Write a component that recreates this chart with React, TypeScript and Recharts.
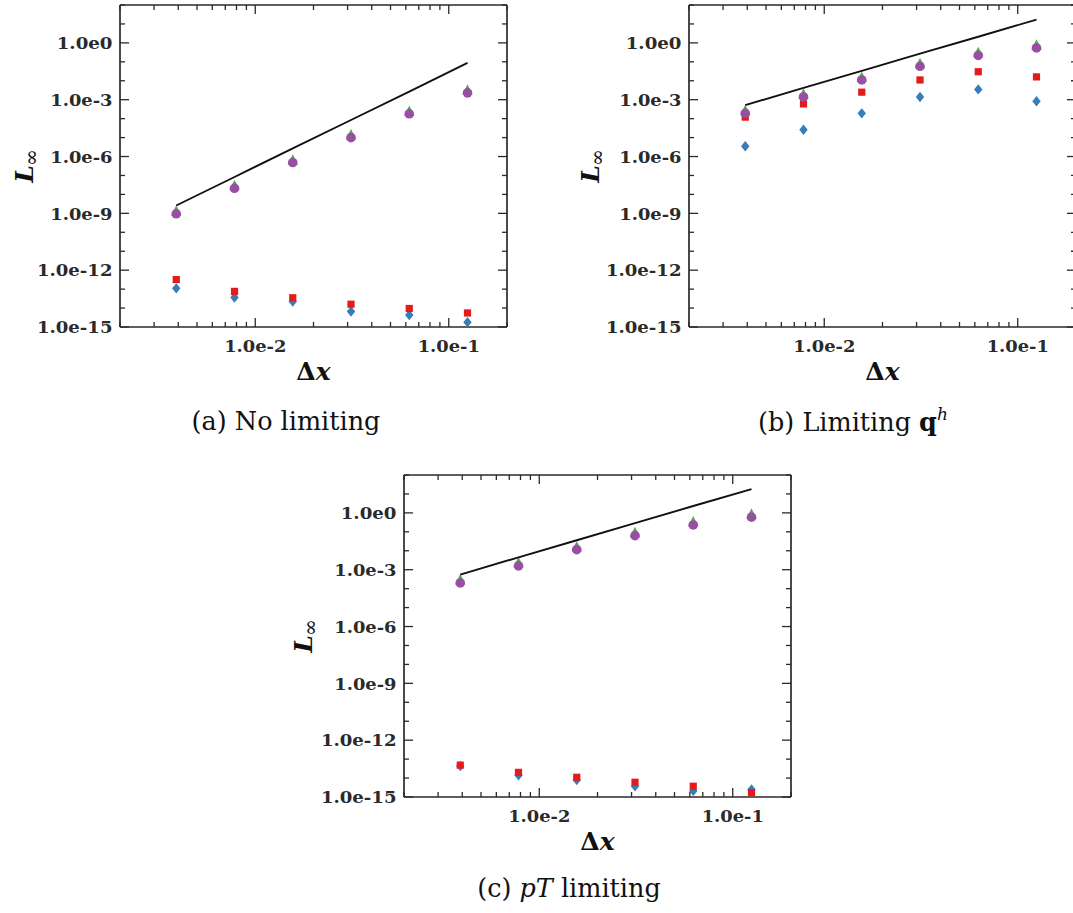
import { Scatter, ScatterChart, XAxis, YAxis } from "recharts";

// mesh sizes, shared by all three panels
const DX = [0.00390625, 0.0078125, 0.015625, 0.03125, 0.0625, 0.125];

// (a) no limiting
const A_DIAMOND = [1.1e-13, 3.6e-14, 2.2e-14, 6.6e-15, 4.3e-15, 1.8e-15];
const A_SQUARE = [3.2e-13, 7.6e-14, 3.5e-14, 1.6e-14, 9.5e-15, 5.5e-15];
const A_TRIANGLE = [1.15e-9, 2.5e-8, 5.7e-7, 1.2e-5, 2.1e-4, 2.8e-3];
const A_CIRCLE = [9.5e-10, 2.1e-8, 4.8e-7, 1.0e-5, 1.8e-4, 2.3e-3];
const A_REF = [2.6e-9, 8.3e-8, 2.7e-6, 8.5e-5, 2.7e-3, 8.7e-2];

// (b) limiting q^h
const B_DIAMOND = [3.5e-6, 2.6e-5, 1.9e-4, 1.4e-3, 3.5e-3, 8.3e-4];
const B_SQUARE = [1.2e-4, 6.0e-4, 2.5e-3, 1.1e-2, 3.0e-2, 1.6e-2];
const B_TRIANGLE = [2.3e-4, 1.7e-3, 1.3e-2, 7.0e-2, 0.27, 0.66];
const B_CIRCLE = [1.9e-4, 1.4e-3, 1.1e-2, 5.8e-2, 0.22, 0.54];
const B_REF = [5.2e-4, 4.2e-3, 3.3e-2, 0.27, 2.1, 17];

// (c) pT limiting
const C_DIAMOND = [4.3e-14, 1.4e-14, 7.8e-15, 3.7e-15, 2.1e-15, 2.5e-15];
const C_SQUARE = [4.8e-14, 2.0e-14, 1.1e-14, 6.0e-15, 3.7e-15, 1.7e-15];
const C_TRIANGLE = [2.5e-4, 2.0e-3, 1.4e-2, 7.8e-2, 0.29, 0.74];
const C_CIRCLE = [2.0e-4, 1.6e-3, 1.15e-2, 6.3e-2, 0.23, 0.59];
const C_REF = [5.5e-4, 4.5e-3, 3.6e-2, 0.29, 2.3, 18];

const X_TICKS = [
  0.002, 0.003, 0.004, 0.005, 0.006, 0.007, 0.008, 0.009, 0.01, 0.02, 0.03, 0.04, 0.05, 0.06, 0.07, 0.08, 0.09,
  0.1, 0.2,
];
const X_MAJOR = [0.01, 0.1];
const X_LABELS = ["1.0e-2", "1.0e-1"];
const Y_TICKS = [
  1e2, 1e1, 1, 1e-1, 1e-2, 1e-3, 1e-4, 1e-5, 1e-6, 1e-7, 1e-8, 1e-9, 1e-10, 1e-11, 1e-12, 1e-13, 1e-14, 1e-15,
];
const Y_MAJOR = [1, 1e-3, 1e-6, 1e-9, 1e-12, 1e-15];
const Y_LABELS = ["1.0e0", "1.0e-3", "1.0e-6", "1.0e-9", "1.0e-12", "1.0e-15"];

const BLUE = "#377eb8";
const RED = "#e41a1c";
const GREEN = "#4daf4a";
const PURPLE = "#984ea3";
const INK = "#2a2a2a";

const PLOT_W = 387;
const PLOT_H = 322;
const TICK_FONT = { fontFamily: "'DejaVu Serif', serif", fontWeight: 700, fontSize: 17.5, fill: INK };

// the original labels are set in a wide bold face; stretch ours to the same width
function labelWidth(s: string) {
  let w = 0;
  for (const ch of s) w += ch === "." ? 5 : ch === "e" ? 10.6 : ch === "-" ? 6.4 : 13.4;
  return w;
}

function majorIndex(v: number, majors: number[]) {
  return majors.findIndex((m) => Math.abs(Math.log10(v) - Math.log10(m)) < 1e-6);
}

function XTick(props: any) {
  const { x, y, payload, side } = props;
  const i = majorIndex(payload.value, X_MAJOR);
  const len = i >= 0 ? 9 : 5;
  const dir = side === "bottom" ? -1 : 1;
  return (
    <g>
      <line x1={x} x2={x} y1={y} y2={y + dir * len} stroke={INK} strokeWidth={1.3} />
      {side === "bottom" && i >= 0 && (
        <text
          x={x}
          y={y + 25}
          textAnchor="middle"
          textLength={labelWidth(X_LABELS[i])}
          lengthAdjust="spacingAndGlyphs"
          {...TICK_FONT}
        >
          {X_LABELS[i]}
        </text>
      )}
    </g>
  );
}

function YTick(props: any) {
  const { x, y, payload, side } = props;
  const i = majorIndex(payload.value, Y_MAJOR);
  const len = i >= 0 ? 9 : 5;
  const dir = side === "left" ? 1 : -1;
  return (
    <g>
      <line x1={x} x2={x + dir * len} y1={y} y2={y} stroke={INK} strokeWidth={1.3} />
      {side === "left" && i >= 0 && (
        <text
          x={x - 7.5}
          y={y}
          dy="0.36em"
          textAnchor="end"
          textLength={labelWidth(Y_LABELS[i])}
          lengthAdjust="spacingAndGlyphs"
          {...TICK_FONT}
        >
          {Y_LABELS[i]}
        </text>
      )}
    </g>
  );
}

const diamond = (p: any) => (
  <path d={`M${p.cx},${p.cy - 5.2}L${p.cx + 4.2},${p.cy}L${p.cx},${p.cy + 5.2}L${p.cx - 4.2},${p.cy}Z`} fill={BLUE} />
);
const square = (p: any) => <rect x={p.cx - 3.6} y={p.cy - 3.6} width={7.2} height={7.2} fill={RED} />;
const triangle = (p: any) => (
  <path d={`M${p.cx},${p.cy - 7}L${p.cx + 5.2},${p.cy + 3.5}L${p.cx - 5.2},${p.cy + 3.5}Z`} fill={GREEN} />
);
const circle = (p: any) => <circle cx={p.cx} cy={p.cy} r={4.8} fill={PURPLE} />;
const noShape = () => <g />;

const rows = (ys: number[]) => DX.map((x, i) => ({ x, y: ys[i] }));

interface PanelProps {
  left: number;
  top: number;
  plotLeft: number;
  plotTop: number;
  dia: number[];
  sq: number[];
  tri: number[];
  circ: number[];
  refLine: number[];
}

// axes need a non-zero size to be drawn; 1px each, taken back from the margins
const AX = 1;

function Panel({ left, top, plotLeft, plotTop, dia, sq, tri, circ, refLine }: PanelProps) {
  const W = 540;
  const H = 370;
  const margin = {
    left: plotLeft - AX,
    top: plotTop - AX,
    right: W - plotLeft - PLOT_W - AX,
    bottom: H - plotTop - PLOT_H - AX,
  };
  const frame = { stroke: INK, strokeWidth: 1.7 };
  return (
    <div style={{ position: "absolute", left, top }}>
      <ScatterChart width={W} height={H} margin={margin}>
        <XAxis
          xAxisId="b"
          type="number"
          dataKey="x"
          scale="log"
          domain={[0.002, 0.2]}
          allowDataOverflow
          ticks={X_TICKS}
          interval={0}
          height={AX}
          tickSize={0}
          tickMargin={0}
          tickLine={false}
          axisLine={frame}
          tick={(p: any) => <XTick {...p} side="bottom" />}
        />
        <XAxis
          xAxisId="t"
          orientation="top"
          type="number"
          dataKey="x"
          scale="log"
          domain={[0.002, 0.2]}
          allowDataOverflow
          ticks={X_TICKS}
          interval={0}
          height={AX}
          tickSize={0}
          tickMargin={0}
          tickLine={false}
          axisLine={frame}
          tick={(p: any) => <XTick {...p} side="top" />}
        />
        <YAxis
          yAxisId="l"
          type="number"
          dataKey="y"
          scale="log"
          domain={[1e-15, 1e2]}
          allowDataOverflow
          ticks={Y_TICKS}
          interval={0}
          width={AX}
          tickSize={0}
          tickMargin={0}
          tickLine={false}
          axisLine={frame}
          tick={(p: any) => <YTick {...p} side="left" />}
        />
        <YAxis
          yAxisId="r"
          orientation="right"
          type="number"
          dataKey="y"
          scale="log"
          domain={[1e-15, 1e2]}
          allowDataOverflow
          ticks={Y_TICKS}
          interval={0}
          width={AX}
          tickSize={0}
          tickMargin={0}
          tickLine={false}
          axisLine={frame}
          tick={(p: any) => <YTick {...p} side="right" />}
        />
        <Scatter xAxisId="b" yAxisId="l" data={rows(dia)} shape={diamond} isAnimationActive={false} />
        <Scatter xAxisId="b" yAxisId="l" data={rows(sq)} shape={square} isAnimationActive={false} />
        <Scatter xAxisId="b" yAxisId="l" data={rows(tri)} shape={triangle} isAnimationActive={false} />
        <Scatter xAxisId="b" yAxisId="l" data={rows(circ)} shape={circle} isAnimationActive={false} />
        <Scatter
          xAxisId="b"
          yAxisId="l"
          data={rows(refLine)}
          shape={noShape}
          line={{ stroke: "#111", strokeWidth: 1.9 }}
          isAnimationActive={false}
        />
      </ScatterChart>
    </div>
  );
}

const SERIF = "'DejaVu Serif', serif";

function AxisTitles({ cx, plotBottom, yx, yy }: { cx: number; plotBottom: number; yx: number; yy: number }) {
  return (
    <g fill="#111" fontFamily={SERIF}>
      <text x={cx} y={plotBottom + 53} textAnchor="middle" fontSize={25} fontWeight={700}>
        Δ<tspan fontStyle="italic">x</tspan>
      </text>
      <text
        x={yx}
        y={yy}
        transform={`rotate(-90 ${yx} ${yy})`}
        textAnchor="middle"
        dy="0.35em"
        fontSize={25}
        fontWeight={700}
        fontStyle="italic"
      >
        L
        <tspan fontSize={20} dy={5} dx={-1} fontStyle="normal" fontWeight={400}>
          ∞
        </tspan>
      </text>
    </g>
  );
}

export default function App() {
  return (
    <div
      style={{ position: "absolute", left: 0, top: 0, width: 1073, height: 913, overflow: "hidden", background: "#fff" }}
    >
      <Panel left={0} top={0} plotLeft={120} plotTop={5} dia={A_DIAMOND} sq={A_SQUARE} tri={A_TRIANGLE} circ={A_CIRCLE} refLine={A_REF} />
      <Panel left={560} top={0} plotLeft={129} plotTop={5} dia={B_DIAMOND} sq={B_SQUARE} tri={B_TRIANGLE} circ={B_CIRCLE} refLine={B_REF} />
      <Panel left={280} top={465} plotLeft={124} plotTop={10} dia={C_DIAMOND} sq={C_SQUARE} tri={C_TRIANGLE} circ={C_CIRCLE} refLine={C_REF} />
      <svg
        width={1073}
        height={913}
        style={{ position: "absolute", left: 0, top: 0, pointerEvents: "none" }}
      >
        <AxisTitles cx={313.5} plotBottom={327} yx={24} yy={166} />
        <AxisTitles cx={882.5} plotBottom={327} yx={590} yy={166} />
        <AxisTitles cx={597.5} plotBottom={797} yx={303} yy={636} />
        <g fill="#111" fontFamily={SERIF} fontSize={25.5} textAnchor="middle">
          <text x={286} y={430}>(a) No limiting</text>
          <text x={853} y={431}>
            (b) Limiting <tspan fontWeight={700}>q</tspan>
            <tspan fontStyle="italic" fontSize={17} dy={-11}>
              h
            </tspan>
          </text>
          <text x={569} y={897}>
            (c) <tspan fontStyle="italic">pT</tspan> limiting
          </text>
        </g>
      </svg>
    </div>
  );
}
